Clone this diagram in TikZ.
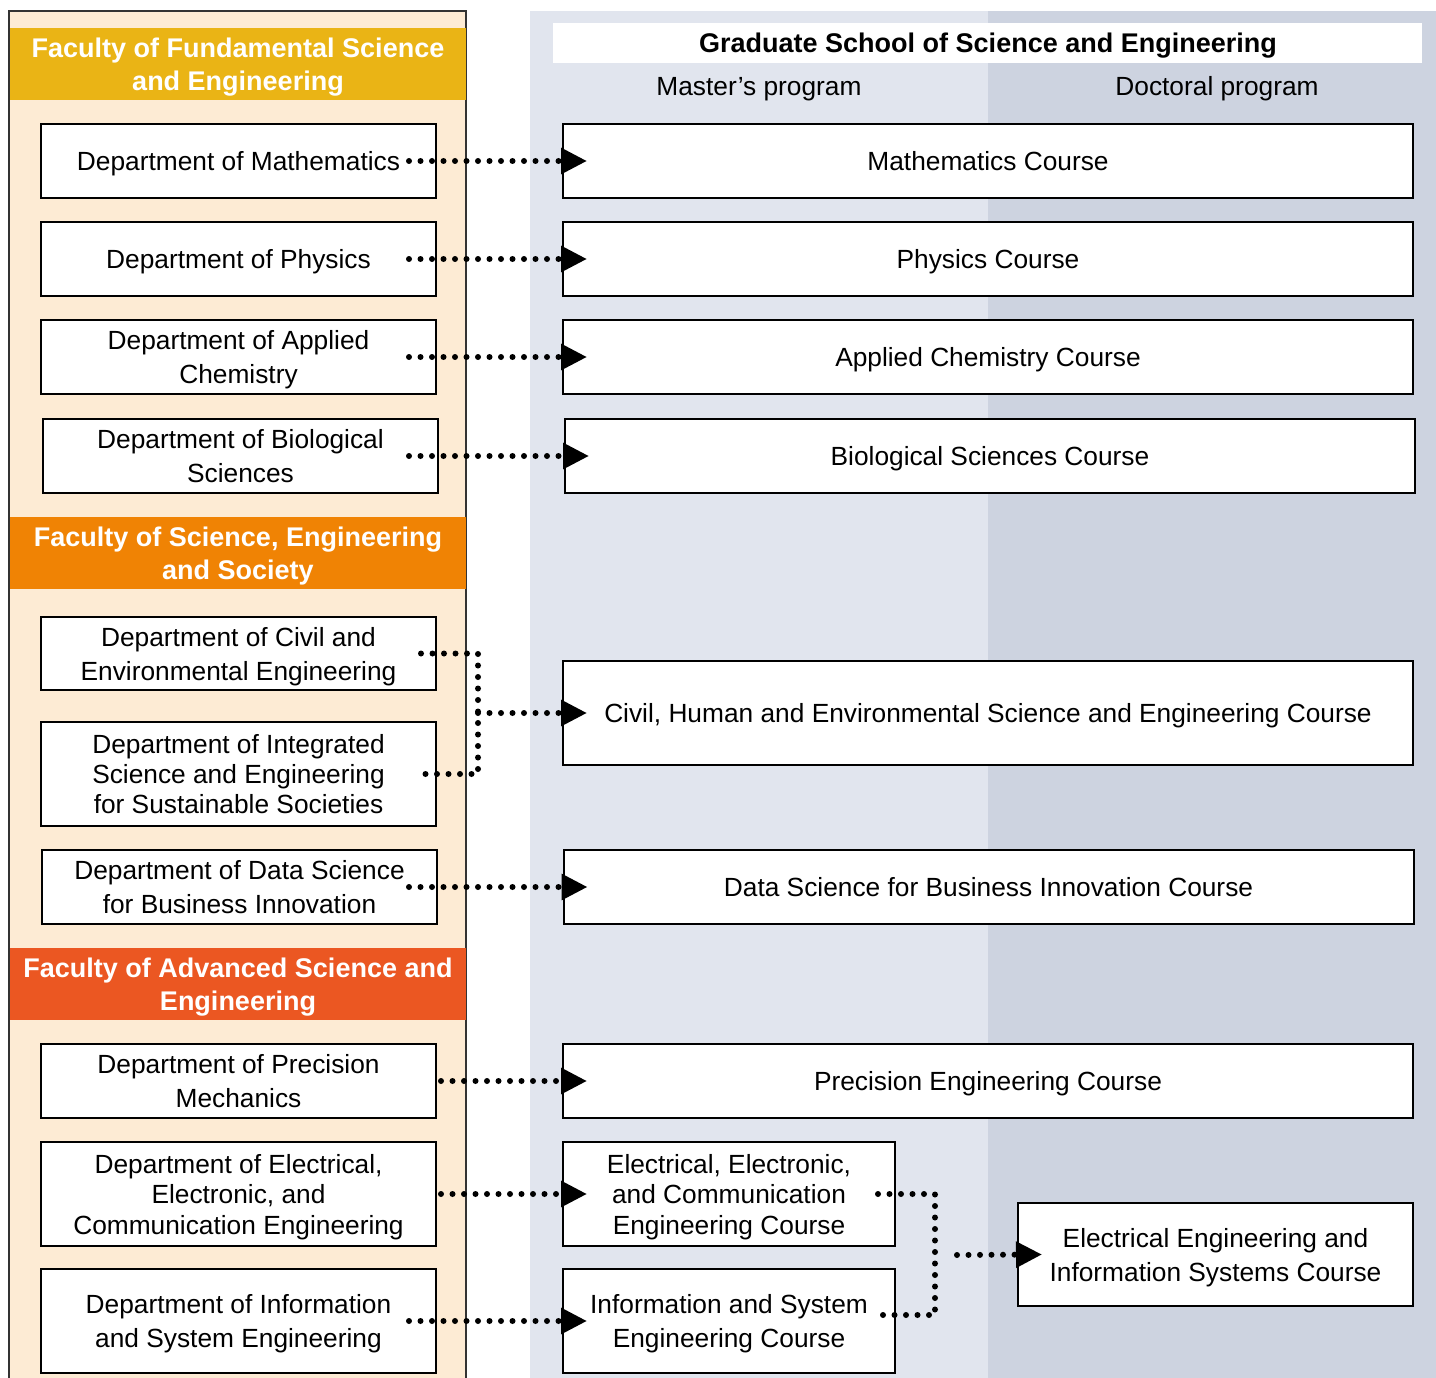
\documentclass[tikz,border=0pt]{standalone}
\usepackage{fontspec}
\setmainfont{Liberation Sans}
\usetikzlibrary{arrows.meta}

\definecolor{facbg}{HTML}{FDEBD4}
\definecolor{facone}{HTML}{EAB415}
\definecolor{factwo}{HTML}{F08304}
\definecolor{facthree}{HTML}{EB5722}
\definecolor{masterbg}{HTML}{E1E5EE}
\definecolor{doctorbg}{HTML}{CDD3E0}

\newcommand\fstrut{\rule[-0.21em]{0pt}{1.14em}}

\tikzset{
    every node/.style={execute at begin node=\fstrut, execute at end node=\fstrut},
    multi/.style={text depth=-1pt},
    dept/.style={draw, line width=2pt, fill=white, minimum width=395pt, minimum height=74pt,
        align=center, inner sep=0pt, font=\fontsize{26.3}{34}\selectfont},
    course/.style={dept, minimum width=850pt},
    faculty/.style={multi, minimum width=456pt, minimum height=72pt, inner sep=0pt, align=center,
        text=white, font=\fontsize{27}{33}\selectfont\bfseries},
    dots/.style={line width=6pt, line cap=round, dash pattern=on 0pt off 11.5pt},
    link/.style={dots, -{Triangle[length=26pt,width=25pt]}}
}

\begin{document}
\begin{tikzpicture}[x=1pt, y=-1pt]
    \useasboundingbox (0,0) rectangle (1436,1378);

    % backgrounds
    \fill[masterbg] (530,11) rectangle (988,1390);
    \fill[doctorbg] (988,11) rectangle (1436,1390);
    \draw[fill=facbg, draw=black!80, line width=1.5pt] (9,1395) -- (9,11) -- (466,11) -- (466,1395);
    \fill[white] (553,23) rectangle (1422,63);

    \node[font=\fontsize{27}{33}\selectfont\bfseries] (gs) at (988,43) {Graduate School of Science and Engineering};
    \node[font=\fontsize{26.3}{34}\selectfont] (mp) at (759,86) {Master’s program};
    \node[font=\fontsize{26.3}{34}\selectfont] (dp) at (1217,86) {Doctoral program};

    % faculties
    \node[faculty, fill=facone] (fse) at (238,64) {Faculty of Fundamental Science\\and Engineering};
    \node[faculty, fill=factwo] (fses) at (238,553) {Faculty of Science, Engineering\\and Society};
    \node[faculty, fill=facthree] (fase) at (238,984) {Faculty of Advanced Science and\\Engineering};

    % departments
    \node[dept] (math) at (238.5,161) {Department of Mathematics};
    \node[dept] (phys) at (238.5,259) {Department of Physics};
    \node[dept, multi] (chem) at (238.5,357) {Department of Applied\\Chemistry};
    \node[dept, multi] (bio) at (240.5,456) {Department of Biological\\Sciences};
    \node[dept, multi, minimum height=73pt] (civ) at (238.5,653.5) {Department of Civil and\\Environmental Engineering};
    \node[dept, multi, minimum height=104pt, font=\fontsize{26.3}{30}\selectfont] (ise) at (238.5,774) {Department of Integrated\\Science and Engineering\\for Sustainable Societies};
    \node[dept, multi] (data) at (239.5,887) {Department of Data Science\\for Business Innovation};
    \node[dept, multi] (prec) at (238.5,1081) {Department of Precision\\Mechanics};
    \node[dept, multi, minimum height=104pt, font=\fontsize{26.3}{30.5}\selectfont] (elec) at (238.5,1194) {Department of Electrical,\\Electronic, and\\Communication Engineering};
    \node[dept, multi, minimum height=104pt] (info) at (238.5,1321) {Department of Information\\and System Engineering};

    % courses
    \node[course] (mathc) at (988,161) {Mathematics Course};
    \node[course] (physc) at (988,259) {Physics Course};
    \node[course] (chemc) at (988,357) {Applied Chemistry Course};
    \node[course] (bioc) at (990,456) {Biological Sciences Course};
    \node[course, minimum height=104pt] (civc) at (988,713) {Civil, Human and Environmental Science and Engineering Course};
    \node[course] (datac) at (988.5,887) {Data Science for Business Innovation Course};
    \node[course] (precc) at (988,1081) {Precision Engineering Course};
    \node[dept, multi, minimum width=332pt, minimum height=104pt, font=\fontsize{26.3}{30.5}\selectfont] (elecc) at (729,1194) {Electrical, Electronic,\\and Communication\\Engineering Course};
    \node[dept, multi, minimum width=332pt, minimum height=104pt] (infoc) at (729,1321) {Information and System\\Engineering Course};
    \node[dept, multi, minimum height=103pt] (eeis) at (1215.5,1254.5) {Electrical Engineering and\\Information Systems Course};

    \coordinate (civj) at (478,713);
    \coordinate (eej) at (935,1255);

    % links
    \draw[link] ([xshift=-28pt]math.east) -- ([xshift=25pt]mathc.west);
    \draw[link] ([xshift=-28pt]phys.east) -- ([xshift=25pt]physc.west);
    \draw[link] ([xshift=-28pt]chem.east) -- ([xshift=25pt]chemc.west);
    \draw[link] ([xshift=-30pt]bio.east) -- ([xshift=25pt]bioc.west);
    \draw[dots] ([xshift=-16pt]civ.east) -| (civj) |- ([xshift=-16pt]ise.east);
    \draw[link] (civj) -- ([xshift=25pt]civc.west);
    \draw[link] ([xshift=-29pt]data.east) -- ([xshift=25pt]datac.west);
    \draw[link] ([xshift=4pt]prec.east) -- ([xshift=25pt]precc.west);
    \draw[link] ([xshift=4pt]elec.east) -- ([xshift=25pt]elecc.west);
    \draw[link] ([xshift=-28pt]info.east) -- ([xshift=25pt]infoc.west);
    \draw[dots] ([xshift=-18pt]elecc.east) -| (eej) |- ([shift={(-18pt,6pt)}]infoc.east);
    \draw[link] ([xshift=22pt]eej) -- ([xshift=25pt]eeis.west);
\end{tikzpicture}
\end{document}
